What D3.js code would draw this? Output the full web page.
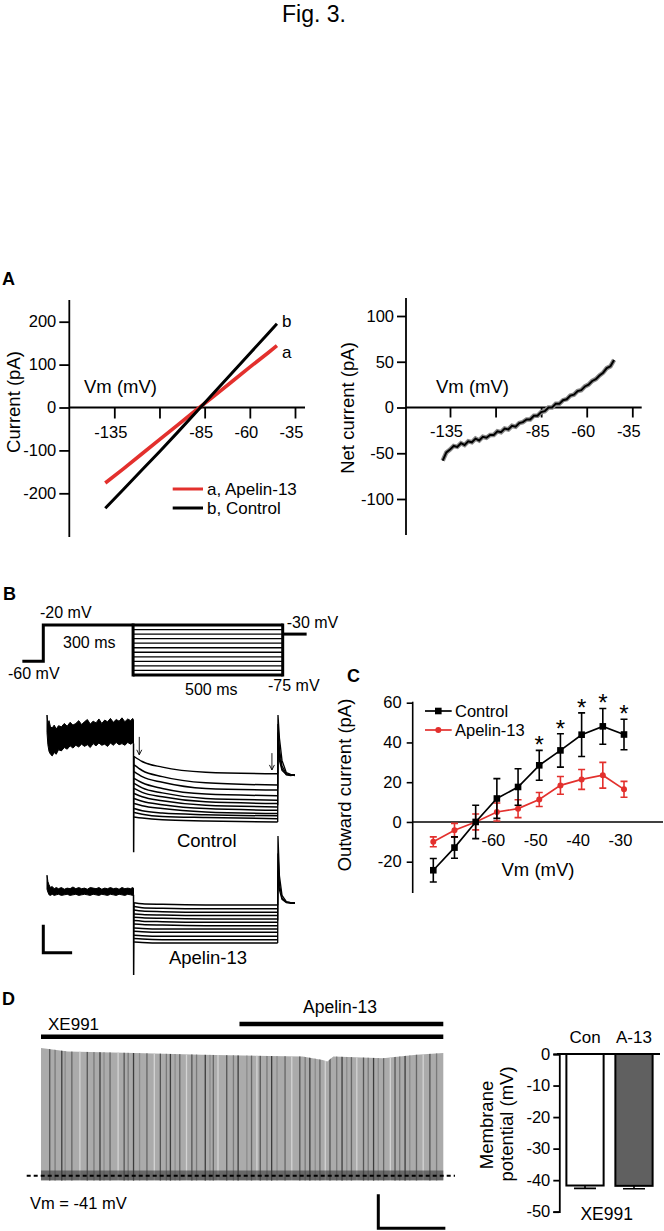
<!DOCTYPE html>
<html><head><meta charset="utf-8">
<script src="https://cdn.jsdelivr.net/npm/d3@7"></script>
<style>
body{margin:0;background:#fff}
svg{display:block}
</style></head><body>
<svg id="fig" width="664" height="1231"></svg>
<script>
// ---------------- DATA ----------------
// Panel A (left): I-V ramps
const aVm      = [-140,-130,-120,-110,-100,-90,-80,-70,-60,-50,-45];
const aControl = [-235,-191,-147,-103,-58,-12,34,80,126,172,195];
const aApelin  = [-176,-143,-109,-75,-41,-7,26,60,94,127,144];
const aYTicks  = [-200,-100,0,100,200];
const aXTicks  = [-135,-110,-85,-60,-35];
const aXLabels = ["-135","","-85","-60","-35"];
// Panel A (right): net current
const netVm = [-139,-137,-135,-133,-131,-129,-127,-125,-123,-121,-119,-117,-115,-113,-111,-109,-107,-105,-103,-101,-99,-97,-95,-93,-91,-89,-87,-85,-83,-81,-79,-77,-75,-73,-71,-69,-67,-65,-63,-61,-59,-57,-55,-53,-51,-49,-47,-45];
const netI  = [-58,-49,-46,-42,-43,-39,-41,-37,-38,-34,-36,-32,-33,-30,-30,-26,-27,-23,-24,-20,-21,-17,-16,-13,-13,-9,-9,-5,-4,0,0,4,4,8,9,13,14,18,19,23,25,29,31,35,38,43,45,52];
const netYTicks = [-100,-50,0,50,100];
// Panel B: protocol
const protoSteps = [-20,-25,-30,-35,-40,-45,-50,-55,-60,-65,-70,-75];
const protoHold = -60, protoPre = -20, protoPost = -30;
const protoT = [-370,-300,0,500,580];
// Panel B: traces (pA vs ms)
const preT = [-300,-297,-293,-288,-282,-275,-268,-260,-250,-240,-230,-220,-210,-200,-190,-180,-170,-160,-150,-140,-130,-120,-110,-100,-90,-80,-70,-60,-50,-40,-30,-20,-10,-3,0];
const ctrlPreTop = [191,176,181,170,168,173,166,172,170,176,171,178,173,176,181,174,179,183,175,180,177,184,176,182,179,185,178,183,180,186,179,184,181,185,182];
const ctrlPreBot = [160,138,126,121,118,124,121,129,127,133,130,136,132,137,134,139,135,138,133,140,136,141,137,139,135,141,137,142,138,140,137,142,139,141,140];
const apePreTop  = [121,110,104,99,101,97,99,97,99,96,98,97,100,97,99,97,98,96,99,98,97,99,96,98,97,99,97,98,96,99,97,98,97,99,98];
const apePreBot  = [96,91,86,85,87,85,86,87,85,86,87,85,86,87,85,86,87,86,85,87,86,85,87,86,85,87,86,85,87,86,85,87,86,85,86];
const capT = [0,0.5,2];
const ctrlCap = [140,-54,117];
const apeCap  = [86,-57,72];
const stepT = [2,30,100,250,500];
const ctrlSteps = [
  [117,108,98,89,86],[102,92,81,70,66],[90,81,71,60,57],[78,70,60,50,47],
  [69,61,52,42,39],[60,53,45,36,33],[51,45,38,30,27],[42,37,31,24,21],
  [33,29,24,18,15],[24,20,16,13,11],[17,14,10,8,6],[9,7,4,2,0]];
const apeSteps = [
  [72,70,69,68,68],[65,63,62,61,61],[59,57,56,55,55],[52,51,50,49,49],
  [46,45,44,43,43],[40,39,38,37,37],[34,33,32,31,31],[27,26,25,25,25],
  [21,20,19,19,19],[14,13,12,12,12],[8,7,6,6,6],[2,1,0,0,0]];
const tailT = [500,501,506,515,530,545,560];
const ctrlTails = [[86,191,150,110,88,85,84],[60,175,130,100,86,84,83],[30,160,118,95,84,83,84],[0,150,110,92,85,84,84]];
const apeTails  = [[68,191,120,85,74,72,72],[40,160,105,80,73,72,71],[0,130,95,78,72,71,71]];
const arrowT = [20,480];
const arrowTop = [152,123];
const arrowBot = [120,93];
// Panel C
const cVm      = [-75,-70,-65,-60,-55,-50,-45,-40,-35,-30];
const cCtrl    = [-24.3,-12.9,0,11.8,17.6,28.5,36,43.9,48.1,44];
const cCtrlErr = [5.9,5.4,8.4,10,9.2,7.5,8.4,11,9,7.7];
const cApe     = [-10,-4.2,0,5,6.7,11.3,18.4,21.4,23.5,16.4];
const cApeErr  = [2.5,3.5,4,4.5,4.5,3.5,4.5,5,6.5,4];
const cStarVm  = [-50,-45,-40,-35,-30];
const cYTicks  = [-20,0,20,40,60];
const cXTicks  = [-60,-50,-40,-30];
// Panel D: firing trace (s, mV)
const envT    = [0,4,14,24,34,39,42,42.7,43.6,51,56,60];
const envPeak = [34,32,31,30,29.3,29,27,26,29,28,30,31];
const spikeT = [1.3,2.1,3.1,3.6,4.6,5.8,6.9,7.9,8.8,9.4,10.3,11.5,12.4,13.0,13.8,14.7,15.8,16.9,17.8,18.7,19.3,20.0,20.7,21.7,22.5,23.2,24.5,25.2,25.7,26.4,27.7,28.7,29.4,30.7,31.4,32.2,32.7,33.7,34.4,35.2,36.4,37.4,38.6,39.4,40.1,40.9,41.6,42.4,43.1,44.1,44.9,45.6,46.3,47.1,48.1,48.8,49.6,50.3,51.1,52.1,52.8,53.5,54.3,55.0,56.0,57.0,58.0,59.0];
const restVm = -41;
const apelinStartT = 29.6;
// Panel D: bar chart
const barGroups = ["Con","A-13"];
const barMeans  = [-41.7,-41.8];
const barErr    = [0.9,0.9];
const barYTicks = [0,-10,-20,-30,-40,-50];

// ---------------- DRAW ----------------
const ff = '"Liberation Sans", Arial, Helvetica, sans-serif';
const svg = d3.select("#fig").attr("font-family", ff);
function label(x,y,t,size,anchor="start",weight="normal",rot=0){
  const e = svg.append("text").attr("font-size",size).attr("font-weight",weight)
    .attr("text-anchor",anchor).attr("fill","#000").text(t);
  if(rot) e.attr("transform",`translate(${x},${y}) rotate(${rot})`);
  else e.attr("x",x).attr("y",y);
  return e;
}
function styleAxis(g, fs, sw){
  g.attr("font-family",ff).attr("font-size",fs);
  g.select(".domain").attr("stroke","#000").attr("stroke-width",sw);
  g.selectAll(".tick line").attr("stroke","#000").attr("stroke-width",sw);
  g.selectAll(".tick text").attr("fill","#000");
}
const RED = "#e3302d";

label(314, 22, "Fig. 3.", 23, "middle");

// ===== Panel A left =====
label(2, 285, "A", 18, "start", "bold");
{
  const x = d3.scaleLinear().domain([-135,-35]).range([114.3,295]);
  const y = d3.scaleLinear().domain([-200,200]).range([493.3,321.7]);
  const gy = svg.append("g").attr("transform","translate(69.3,0)")
    .call(d3.axisLeft(y).tickValues(aYTicks).tickSize(10).tickPadding(3).tickFormat(d=>String(d)));
  styleAxis(gy, 16.5, 1.8);
  gy.select(".domain").attr("d","M0,300V537");
  const gx = svg.append("g").attr("transform",`translate(0,${y(0)})`)
    .call(d3.axisBottom(x).tickValues(aXTicks).tickSize(11).tickPadding(8).tickFormat((d,i)=>aXLabels[i]));
  styleAxis(gx, 16.5, 1.8);
  gx.select(".domain").attr("d","M69.3,0H305");
  gx.selectAll(".tick text").attr("dx",-4);
  const line = d3.line().x(d=>x(d[0])).y(d=>y(d[1]));
  svg.append("path").attr("d", line(aVm.map((v,i)=>[v,aApelin[i]])))
    .attr("fill","none").attr("stroke",RED).attr("stroke-width",3.6);
  svg.append("path").attr("d", line(aVm.map((v,i)=>[v,aControl[i]])))
    .attr("fill","none").attr("stroke","#000").attr("stroke-width",3);
  const lc = aControl.length-1;
  label(x(aVm[lc])+5, y(aControl[lc])+3, "b", 17);
  label(x(aVm[lc])+5, y(aApelin[lc])+12, "a", 17);
  label(84, 393, "Vm (mV)", 18.5);
  label(20, 402, "Current (pA)", 18.5, "middle", "normal", -90);
  // legend
  svg.append("line").attr("x1",172.7).attr("x2",203).attr("y1",489).attr("y2",489).attr("stroke",RED).attr("stroke-width",3);
  svg.append("line").attr("x1",172.7).attr("x2",203).attr("y1",508).attr("y2",508).attr("stroke","#000").attr("stroke-width",3);
  label(207, 495, "a, Apelin-13", 17);
  label(207, 514, "b, Control", 17);
}

// ===== Panel A right =====
{
  const x = d3.scaleLinear().domain([-135,-35]).range([450,632.3]);
  const y = d3.scaleLinear().domain([-100,100]).range([499,316]);
  const gy = svg.append("g").attr("transform","translate(406,0)")
    .call(d3.axisLeft(y).tickValues(netYTicks).tickSize(9).tickPadding(3).tickFormat(d=>String(d)));
  styleAxis(gy, 16.5, 1.8);
  gy.select(".domain").attr("d","M0,298V535");
  const gx = svg.append("g").attr("transform",`translate(0,${y(0)})`)
    .call(d3.axisBottom(x).tickValues(aXTicks).tickSize(10).tickPadding(8).tickFormat((d,i)=>aXLabels[i]));
  styleAxis(gx, 16.5, 1.8);
  gx.select(".domain").attr("d","M406,0H641.7");
  gx.selectAll(".tick text").attr("dx",-4);
  const line = d3.line().x(d=>x(d[0])).y(d=>y(d[1]));
  const pts = netVm.map((v,i)=>[v,netI[i]]);
  svg.append("path").attr("d", line(pts)).attr("fill","none").attr("stroke","#8a8a8a").attr("stroke-width",4.5);
  svg.append("path").attr("d", line(pts)).attr("fill","none").attr("stroke","#000").attr("stroke-width",2);
  label(436, 393, "Vm (mV)", 18.5);
  label(354, 408, "Net current (pA)", 18.5, "middle", "normal", -90);
}

// ===== Panel B protocol =====
label(3, 600, "B", 18, "start", "bold");
{
  const x = d3.scaleLinear().domain([-300,500]).range([43.3,282.7]);
  const y = d3.scaleLinear().domain([-20,-75]).range([625,675]);
  const g = svg.append("g").attr("fill","none").attr("stroke","#000");
  g.append("path").attr("stroke-width",3)
    .attr("d",`M${x(protoT[0])},${y(protoHold)}H${x(protoT[1])}V${y(protoPre)}H${x(protoT[2])}`);
  protoSteps.forEach((v,i)=>{
    g.append("line").attr("x1",x(protoT[2])).attr("x2",x(protoT[3])).attr("y1",y(v)).attr("y2",y(v))
      .attr("stroke-width",(i===0||i===protoSteps.length-1)?3:1.3);
  });
  [protoT[2],protoT[3]].forEach(t=>{
    g.append("line").attr("x1",x(t)).attr("x2",x(t)).attr("y1",y(protoSteps[0])-1.5).attr("y2",y(protoSteps[protoSteps.length-1])+1.5).attr("stroke-width",3);
  });
  g.append("line").attr("x1",x(protoT[3])).attr("x2",x(protoT[4])).attr("y1",y(protoPost)).attr("y2",y(protoPost)).attr("stroke-width",3);
  label(40, 617.5, "-20 mV", 16);
  label(63, 648, "300 ms", 16);
  label(8, 679, "-60 mV", 16);
  label(185, 695, "500 ms", 16);
  label(268, 691, "-75 mV", 16);
  label(286.7, 628, "-30 mV", 16);
}

// ===== Panel B traces =====
{
  const x = d3.scaleLinear().domain([-300,560]).range([47,295]);
  const yC = d3.scaleLinear().domain([0,100]).range([822,766]);
  const yA = d3.scaleLinear().domain([0,100]).range([943,887]);
  function drawSet(y, preTop, preBot, cap, steps, tails){
    const area = d3.area().x((d,i)=>x(preT[i])).y0((d,i)=>y(preBot[i])).y1((d,i)=>y(preTop[i]));
    svg.append("path").attr("d",area(preT)).attr("fill","#000").attr("stroke","#000").attr("stroke-width",1);
    const ln = d3.line().x(d=>x(d[0])).y(d=>y(d[1]));
    svg.append("path").attr("d",ln(capT.map((t,i)=>[t,cap[i]]))).attr("fill","none").attr("stroke","#000").attr("stroke-width",1.5);
    const sl = d3.line().x(d=>x(d[0])).y(d=>y(d[1])).curve(d3.curveMonotoneX);
    steps.forEach(s=>{
      svg.append("path").attr("d",sl(stepT.map((t,i)=>[t,s[i]]))).attr("fill","none").attr("stroke","#000").attr("stroke-width",1.5);
    });
    tails.forEach(s=>{
      svg.append("path").attr("d",ln(tailT.map((t,i)=>[t,s[i]]))).attr("fill","none").attr("stroke","#000").attr("stroke-width",1.3);
    });
  }
  drawSet(yC, ctrlPreTop, ctrlPreBot, ctrlCap, ctrlSteps, ctrlTails);
  drawSet(yA, apePreTop, apePreBot, apeCap, apeSteps, apeTails);
  arrowT.forEach((t,i)=>{
    const xx = x(t), y1 = yC(arrowTop[i]), y2 = yC(arrowBot[i]);
    svg.append("line").attr("x1",xx).attr("x2",xx).attr("y1",y1).attr("y2",y2).attr("stroke","#000").attr("stroke-width",0.9);
    svg.append("path").attr("d",`M${xx-2.5},${y2-5}L${xx},${y2}L${xx+2.5},${y2-5}`).attr("fill","none").attr("stroke","#000").attr("stroke-width",0.9);
  });
  label(206.7, 846.5, "Control", 18.5, "middle");
  label(208, 964, "Apelin-13", 18.5, "middle");
  // scale bar: 50 pA, 100 ms
  const x0 = 43.3, yb = 952.7;
  svg.append("path").attr("d",`M${x0},${yb-(yC(0)-yC(50))}V${yb}H${x0+(x(100)-x(0))}`)
    .attr("fill","none").attr("stroke","#000").attr("stroke-width",3);
}

// ===== Panel C =====
label(347, 682, "C", 18, "start", "bold");
{
  const x = d3.scaleLinear().domain([-75,-30]).range([433.3,624]);
  const y = d3.scaleLinear().domain([-20,60]).range([861.7,702.7]);
  const gy = svg.append("g").attr("transform","translate(412.7,0)")
    .call(d3.axisLeft(y).tickValues(cYTicks).tickSize(6).tickPadding(5).tickFormat(d=>String(d)));
  styleAxis(gy, 16.5, 1.6);
  gy.select(".domain").attr("d","M0,701.7V893");
  const gx = svg.append("g").attr("transform",`translate(0,${y(0)})`)
    .call(d3.axisBottom(x).tickValues(cXTicks).tickSize(0).tickPadding(12).tickFormat(d=>String(d)));
  styleAxis(gx, 16.5, 1.6);
  gx.select(".domain").attr("d","M412.7,0H663");
  gx.selectAll(".tick text").attr("dx",-4);
  label(538, 876, "Vm (mV)", 18.5, "middle");
  label(351, 785, "Outward current (pA)", 18.5, "middle", "normal", -90);
  const line = d3.line().x(d=>x(d[0])).y(d=>y(d[1]));
  function series(vals, errs, color, shape){
    const g = svg.append("g");
    g.append("path").attr("d", line(cVm.map((v,i)=>[v,vals[i]]))).attr("fill","none").attr("stroke",color).attr("stroke-width",1.7);
    cVm.forEach((v,i)=>{
      const xx = x(v);
      g.append("path").attr("d",`M${xx},${y(vals[i]-errs[i])}V${y(vals[i]+errs[i])}M${xx-3.5},${y(vals[i]-errs[i])}H${xx+3.5}M${xx-3.5},${y(vals[i]+errs[i])}H${xx+3.5}`)
        .attr("stroke",color).attr("stroke-width",1.6).attr("fill","none");
      if(shape==="square") g.append("rect").attr("x",xx-3.3).attr("y",y(vals[i])-3.3).attr("width",6.6).attr("height",6.6).attr("fill",color);
      else g.append("circle").attr("cx",xx).attr("cy",y(vals[i])).attr("r",3).attr("fill",color);
    });
  }
  series(cApe, cApeErr, RED, "circle");
  series(cCtrl, cCtrlErr, "#000", "square");
  cStarVm.forEach(v=>{
    const i = cVm.indexOf(v);
    label(x(v), y(cCtrl[i]+cCtrlErr[i]) + 3, "*", 24, "middle");
  });
  // legend
  svg.append("line").attr("x1",425).attr("x2",451.7).attr("y1",711).attr("y2",711).attr("stroke","#000").attr("stroke-width",1.7);
  svg.append("rect").attr("x",438.3-3.3).attr("y",711-3.3).attr("width",6.6).attr("height",6.6).attr("fill","#000");
  svg.append("line").attr("x1",425).attr("x2",451.7).attr("y1",730).attr("y2",730).attr("stroke",RED).attr("stroke-width",1.7);
  svg.append("circle").attr("cx",438.3).attr("cy",730).attr("r",3).attr("fill",RED);
  label(455, 717, "Control", 16.5);
  label(455, 736, "Apelin-13", 16.5);
}

// ===== Panel D trace =====
label(2, 1005, "D", 18, "start", "bold");
{
  const x = d3.scaleLinear().domain([0,60]).range([41,443.3]);
  const y = d3.scaleLinear().domain([restVm, 34]).range([1175.7,1048]);
  // drug bars
  svg.append("line").attr("x1",x(0)).attr("x2",x(60)).attr("y1",1036.7).attr("y2",1036.7).attr("stroke","#000").attr("stroke-width",4.5);
  svg.append("line").attr("x1",x(apelinStartT)).attr("x2",x(60)).attr("y1",1024).attr("y2",1024).attr("stroke","#000").attr("stroke-width",4.5);
  label(48, 1030, "XE991", 17);
  label(303, 1013, "Apelin-13", 17.5);
  const env = d3.area().x((d,i)=>x(envT[i])).y0(y(-44)).y1((d,i)=>y(envPeak[i]));
  svg.append("clipPath").attr("id","envclip").append("path").attr("d",env(envT));
  svg.append("path").attr("d",env(envT)).attr("fill","#ababab");
  const shades = ["#555","#7a7a7a","#3c3c3c","#8c8c8c","#666","#d4d4d4"];
  const gs = svg.append("g").attr("clip-path","url(#envclip)");
  spikeT.forEach((t,i)=>{
    gs.append("line").attr("x1",x(t)).attr("x2",x(t)).attr("y1",y(-44)).attr("y2",y(40))
      .attr("stroke",shades[i%shades.length]).attr("stroke-width",1.3);
  });
  const band = d3.area().x(d=>x(d)).y0(y(-43.5)).y1(y(-38));
  svg.append("path").attr("d",band([0,60])).attr("fill","#3a3a3a").attr("opacity",0.6);
  svg.append("line").attr("x1",26.7).attr("x2",455).attr("y1",y(restVm)).attr("y2",y(restVm))
    .attr("stroke","#000").attr("stroke-width",2).attr("stroke-dasharray","4,3");
  label(30, 1209, "Vm = -41 mV", 16.5);
  // scale bar 20 mV, 10 s
  const sx = 378.3, sy = 1228.3;
  svg.append("path").attr("d",`M${sx},${sy-(y(0)-y(20))}V${sy}H${sx+(x(10)-x(0))}`)
    .attr("fill","none").attr("stroke","#000").attr("stroke-width",3);
}

// ===== Panel D bar chart =====
{
  const x = d3.scaleBand().domain(barGroups).range([561,658]).paddingInner(0.24).paddingOuter(0.11);
  const y = d3.scaleLinear().domain([-50,0]).range([1211.7,1054]);
  const fills = ["#fff","#606060"];
  barGroups.forEach((g,i)=>{
    const x0 = x(g), w = x.bandwidth(), cx = x0+w/2;
    svg.append("path").attr("d",`M${cx},${y(barMeans[i])}V${y(barMeans[i]-barErr[i])}M${cx-11},${y(barMeans[i]-barErr[i])}H${cx+11}`)
      .attr("stroke","#000").attr("stroke-width",1.6);
    svg.append("rect").attr("x",x0).attr("y",y(0)).attr("width",w).attr("height",y(barMeans[i])-y(0))
      .attr("fill",fills[i]).attr("stroke","#000").attr("stroke-width",2);
    label(cx, 1042.5, g, 17, "middle");
  });
  const gy = svg.append("g").attr("transform","translate(559.3,0)")
    .call(d3.axisLeft(y).tickValues(barYTicks).tickSize(6).tickPadding(3).tickFormat(d=>String(d)));
  styleAxis(gy, 16.5, 1.8);
  svg.append("line").attr("x1",557).attr("x2",660).attr("y1",y(0)).attr("y2",y(0)).attr("stroke","#000").attr("stroke-width",2);
  label(606.7, 1220, "XE991", 17.5, "middle");
  label(493, 1125, "Membrane", 18.5, "middle", "normal", -90);
  label(513, 1124, "potential (mV)", 18.5, "middle", "normal", -90);
}
</script>
</body></html>
